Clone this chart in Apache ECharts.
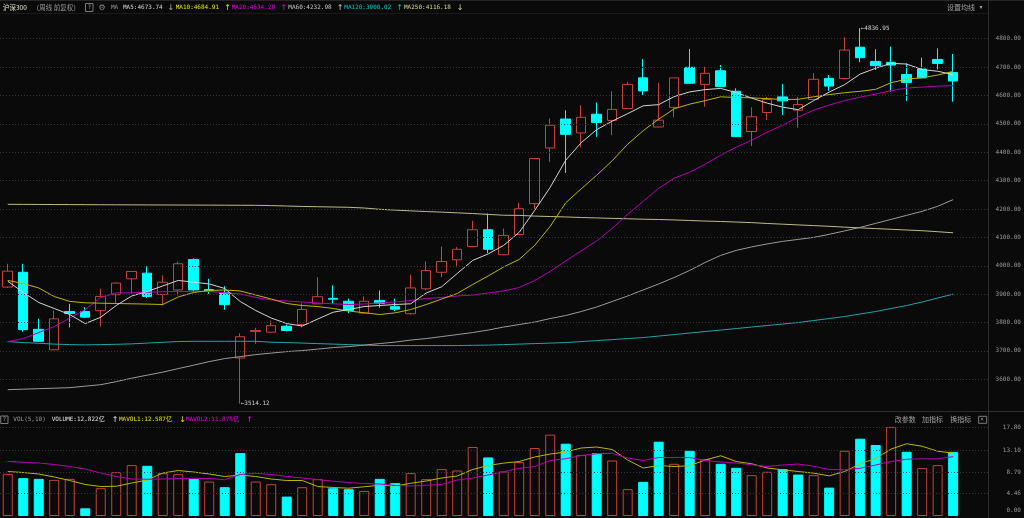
<!DOCTYPE html>
<html><head><meta charset="utf-8">
<script src="https://cdn.jsdelivr.net/npm/echarts/dist/echarts.min.js"></script>
<style>html,body{margin:0;padding:0;background:#0a0a0a;overflow:hidden}#c{width:1024px;height:518px}</style>
</head><body><div id="c"></div>
<script>
// ---------------- data ----------------
const categories = ['W01','W02','W03','W04','W05','W06','W07','W08','W09','W10','W11','W12','W13','W14','W15','W16','W17','W18','W19','W20','W21','W22','W23','W24','W25','W26','W27','W28','W29','W30','W31','W32','W33','W34','W35','W36','W37','W38','W39','W40','W41','W42','W43','W44','W45','W46','W47','W48','W49','W50','W51','W52','W53','W54','W55','W56','W57','W58','W59','W60','W61','W62',' ','  '];
const opens  = [3925,3977,3776,3704,3839,3839,3842,3898,3954,3974,3899,3915,4022,3916,3905,3675,3768,3766,3787,3793,3866,3885,3875,3833,3878,3856,3831,3919,3977,4021,4068,4127,4039,4110,4219,4415,4517,4468,4534,4512,4554,4662,4489,4558,4699,4639,4687,4615,4473,4540,4595,4548,4586,4660,4660,4770,4720,4717,4674,4693,4727,4681];
const closes = [3981,3775,3734,3813,3832,3819,3892,3939,3980,3892,3942,4007,3915,3911,3863,3750,3772,3789,3772,3846,3891,3882,3842,3875,3867,3847,3922,3983,4015,4058,4127,4058,4107,4201,4378,4495,4463,4523,4505,4551,4639,4616,4513,4662,4643,4678,4631,4455,4525,4586,4581,4568,4657,4633,4760,4733,4705,4707,4646,4662,4713,4651];
const lows   = [3922,3768,3732,3702,3783,3817,3786,3866,3901,3887,3860,3895,3907,3901,3845,3514.12,3725,3765,3769,3783,3865,3866,3833,3832,3852,3840,3828,3913,3960,3995,4066,4045,4038,4109,4195,4366,4327,4417,4454,4460,4553,4601,4487,4523,4642,4560,4630,4454,4422,4513,4531,4487,4585,4616,4659,4717,4690,4613,4581,4661,4692,4578];
const highs  = [4007,4007,3813,3842,3866,3854,3919,3941,3981,3998,3966,4015,4026,3954,3928,3762,3781,3807,3793,3868,3960,3931,3884,3892,3913,3884,3969,4015,4068,4066,4158,4184,4131,4222,4378,4519,4548,4565,4575,4615,4648,4728,4645,4662,4764,4701,4707,4625,4558,4595,4640,4595,4678,4672,4805,4836.95,4763,4772,4713,4733,4766,4746];
const ma5   = [3945.7,3905.9,3870.6,3849.4,3828.2,3796.4,3818.7,3860,3893.5,3909.4,3928.8,3948.2,3942.2,3935.9,3920,3874.1,3842.3,3815.8,3796.4,3787.6,3812.3,3836.3,3845.8,3856.4,3860,3863.5,3866,3904.1,3926,3972.9,4018.8,4041.8,4071.8,4117.7,4195,4276.5,4371.8,4433.6,4479.5,4509.5,4536,4563.5,4567.7,4596,4612.6,4620.7,4624.9,4610.1,4590.7,4573,4558.9,4550.1,4581.8,4611.9,4638.3,4675.4,4695.9,4713.2,4710.7,4691.3,4685.3,4673.74];
const ma10  = [3948.2,3937.6,3921.7,3891.7,3874.4,3869.5,3868.1,3867,3866,3865,3863.5,3890,3905.9,3912.9,3914.7,3911.1,3897,3882.9,3867,3860,3856.4,3849.4,3840.5,3834.5,3828.2,3834.2,3845.8,3863.5,3882.9,3902.3,3934.1,3964.1,3995.9,4022.3,4071.8,4138.8,4221.8,4271.2,4318.9,4370,4428.3,4475.9,4516.5,4552.9,4569.5,4581.8,4595.3,4592.8,4591.7,4588.9,4585.7,4586.4,4595.3,4603,4609.7,4614.7,4621.7,4645,4657.7,4662.3,4671.9,4684.91];
const ma20  = [3732.9,3743.5,3764.7,3785.8,3815.8,3845.8,3888.2,3904.4,3904.8,3906.6,3908.7,3909.4,3909.4,3909.4,3904.8,3900.6,3888.2,3879.4,3875.8,3872.3,3868.8,3866,3863.5,3865.3,3868.8,3872.3,3877.6,3884.7,3888.2,3893.5,3897,3904.1,3911.1,3923.5,3948.2,3980,4017,4052.3,4087.6,4131.8,4181.2,4227.1,4273,4308.3,4329.5,4357.7,4389.5,4417.7,4442.4,4470.7,4495.4,4523.6,4548.3,4566,4581.8,4594.2,4604.8,4617.1,4626,4629.5,4633,4634.28];
const ma60  = [3563.4,3565.2,3567,3568.7,3570.5,3575.8,3581.1,3591.7,3604,3614.6,3625.2,3637.6,3649.9,3662.3,3672.9,3679.9,3687,3692.3,3697.6,3701.1,3706.4,3711.7,3715.2,3720.5,3725.8,3731.1,3738.2,3743.5,3750.5,3757.6,3764.7,3773.5,3784.1,3792.9,3801.7,3814.1,3824.7,3838.8,3854.7,3874.1,3893.5,3914.7,3935.9,3958.8,3983.5,4011.8,4036.5,4054.1,4066.5,4077,4085.9,4092.9,4100,4110.6,4122.9,4135.3,4149.4,4163.5,4177.7,4191.8,4209.4,4232.98];
const ma120 = [3732.9,3729.4,3726.9,3724,3722.3,3721.2,3722.3,3723.3,3724.8,3727.6,3730.4,3732.9,3733.9,3733.9,3733.9,3733.9,3733.9,3730.6,3729.4,3727.6,3725.8,3724,3722.3,3720.5,3718.8,3718.8,3718.8,3718.8,3718.8,3718.8,3719.8,3720.5,3722.3,3724,3725.8,3727.6,3729.4,3732.9,3736.4,3739.9,3743.5,3747,3752.3,3757.6,3762.9,3768.2,3773.5,3778.8,3784.1,3789.4,3794.7,3800,3807,3814.1,3821.1,3830,3838.8,3849.4,3860,3872.3,3886.4,3900.02];
const ma250 = [4216.5,4216.3,4216,4215.8,4215.5,4215.2,4215,4214.8,4214.6,4214.4,4214.2,4214,4213.8,4213.6,4213.4,4213.2,4213,4212,4210.5,4209,4208,4207,4206,4203.5,4199,4196,4193.5,4191,4189,4186.5,4184,4181,4178,4177.5,4175,4173.5,4172,4170,4168.5,4167,4165.5,4164,4163,4161.5,4159.5,4157.5,4156,4154,4152,4149,4146.5,4144,4141.5,4139,4136,4133.5,4131,4128.5,4126,4123.5,4120,4116.18];
const volumes = [8.43,7.57,7.43,7.23,7.43,1.54,5.56,8.77,10.18,10.04,8.57,8.37,7.43,6.89,5.76,12.58,6.89,6.36,3.88,5.76,7.37,5.56,5.36,5.02,7.43,6.57,8.57,7.37,9.38,9.10,13.8,11.71,8.9,10.78,13.59,16.27,14.46,12.18,12.58,11.1,5.36,6.83,14.86,10.44,13.05,11.38,10.44,9.64,8.17,8.84,9.38,8.29,8.17,5.68,13.05,15.46,14.2,17.81,12.85,9.58,10.18,12.822];
const volUp   = [1,0,0,1,1,0,1,1,1,0,1,1,0,1,0,0,1,1,0,1,1,0,0,1,0,0,1,1,1,1,1,0,1,1,1,1,0,1,0,1,1,0,0,1,0,1,0,0,1,1,0,0,1,0,1,0,0,1,0,1,1,0];
const mavol1  = [8.9,8.7,8.4,7.8,7.1,6.3,5.9,5.95,6.6,7.2,8.6,9.1,8.8,8.4,7.9,8.2,7.9,7.4,7.1,7.1,5.9,5.7,5.56,5.85,6.15,6.0,6.55,7.0,7.6,8.0,9.3,10.1,10.58,10.9,11.8,12.4,12.8,13.6,13.8,13.3,11.2,9.6,10.1,9.9,10.05,11.2,12.05,10.9,10.45,9.6,9.25,8.9,8.57,8.03,8.9,10.44,11.5,13.4,14.45,13.95,12.95,12.587];
const mavol2  = [10.9,10.75,10.6,10.3,9.9,9.4,8.6,7.9,7.4,7.35,7.4,7.5,7.55,7.5,7.25,8.3,8.55,8.3,7.9,7.6,7.3,6.95,6.7,6.5,6.4,6.1,6.0,6.15,6.3,7.2,7.6,8.2,8.85,9.55,9.9,11.1,11.45,12.1,12.45,12.55,11.6,11.1,11.7,11.7,11.7,11.1,10.8,10.6,10.25,9.9,10.2,10.4,9.95,9.3,9.25,9.55,10.2,10.9,11.35,11.45,11.45,11.878];
const priceTicks = [3600,3700,3800,3900,4000,4100,4200,4300,4400,4500,4600,4700,4800];
const volTicks = [0,4.46,8.79,13.10,17.80];
const highMark = {index:55, value:4836.95};
const lowMark = {index:15, value:3514.12};

// ---------------- style ----------------
const BG='#0a0a0a', RED='#c8423c', CYAN='#00ffff';
const MONO='"DejaVu Sans Mono","Noto Sans CJK SC",monospace';
const CJK='"Noto Sans CJK SC",sans-serif';
const GRID_L=-0.7, GRID_W=992.6;

function txt(x,y,text,fill,font){
  return {type:'text',x:x,y:y,z:100,silent:true,style:{text:text,fill:fill,font:font,align:'left',textAlign:'left',verticalAlign:'middle',textVerticalAlign:'middle'}};
}
function hline(x1,x2,y,c){return {type:'line',z:101,silent:true,shape:{x1:x1,y1:y,x2:x2,y2:y},style:{stroke:c,lineWidth:1}};}
function vline(x,y1,y2,c){return {type:'line',z:101,silent:true,shape:{x1:x,y1:y1,x2:x,y2:y2},style:{stroke:c,lineWidth:1}};}
function box(x,y,w,h){return {type:'rect',z:100,silent:true,shape:{x:x,y:y,width:w,height:h},style:{fill:'none',stroke:'#7a7a7a',lineWidth:1}};}

const last = a => a[a.length-1];
const F6 = '6px '+MONO, F6C='6.5px '+CJK, F7C='7px '+CJK, FA='8px "DejaVu Sans",sans-serif';
const Y1=7.5, Y2=419.7;
const graphics = [
  {type:'rect',z:99,silent:true,shape:{x:989,y:0,width:5,height:518},style:{fill:BG}},
  hline(0,1024,0.5,'#262626'), hline(0,988,13.5,'#1a1a1a'), hline(0,1024,411.5,'#2e2e2e'),
  vline(988.5,0,518,'#2e2e2e'),
  txt(3,Y1,'沪深300','#e4e4d4',F6C), txt(32.7,Y1,'（周线 前复权）','#9a9a9a',F6C),
  box(85.5,3.5,7.5,8), txt(87.4,Y1,'?','#9a9a9a',F6),
  txt(98.5,Y1,'⚙','#8a8a8a',FA),
  txt(111,Y1,'MA','#9a9a9a',F6),
  txt(123,Y1,'MA5:'+last(ma5).toFixed(2),'#d8d8d8',F6), txt(167.5,Y1,'↓','#b0b0b0',FA),
  txt(175.7,Y1,'MA10:'+last(ma10).toFixed(2),'#e6e600',F6), txt(224.3,Y1,'↑','#e6e600',FA),
  txt(231.7,Y1,'MA20:'+last(ma20).toFixed(2),'#e600e6',F6), txt(280.5,Y1,'↑','#e600e6',FA),
  txt(288.3,Y1,'MA60:'+last(ma60).toFixed(2),'#c8c8c8',F6), txt(336.8,Y1,'↑','#c8c8c8',FA),
  txt(344.3,Y1,'MA120:'+last(ma120).toFixed(2),'#00c8c8',F6), txt(396.3,Y1,'↑','#00c8c8',FA),
  txt(404,Y1,'MA250:'+last(ma250).toFixed(2),'#d8d890',F6), txt(456.8,Y1,'↓','#d8d890',FA),
  txt(947,7.3,'设置均线','#a0a0a0',F7C), txt(979.5,7.3,'▾','#a0a0a0','6px "DejaVu Sans",sans-serif'),
  box(0.7,416,7.3,7.5), txt(2.4,Y2,'?','#9a9a9a',F6),
  txt(13.3,Y2,'VOL(5,10)','#9a9a9a',F6),
  txt(51.7,Y2,'VOLUME:'+last(volumes).toFixed(3)+'亿','#e0e0e0',F6), txt(111.8,Y2,'↑','#e0e0e0',FA),
  txt(119,Y2,'MAVOL1:'+last(mavol1).toFixed(3)+'亿','#e6e600',F6), txt(179.3,Y2,'↓','#e6e600',FA),
  txt(186,Y2,'MAVOL2:'+last(mavol2).toFixed(3)+'亿','#e600e6',F6), txt(246.3,Y2,'↑','#e600e6',FA),
  txt(894.7,Y2,'改参数','#a0a0a0',F7C), txt(922,Y2,'加指标','#a0a0a0',F7C), txt(950.3,Y2,'换指标','#a0a0a0',F7C),
  box(978.7,416.3,8,7), txt(980.3,Y2,'×','#9a9a9a',F6)
];

function maLine(data,color,xi,yi){
  return {type:'line',xAxisIndex:xi,yAxisIndex:yi,data:data,symbol:'none',showSymbol:false,silent:true,z:3,
    lineStyle:{color:color,width:1},emphasis:{disabled:true}};
}
function gridLines(ticks,xi,yi){
  return {type:'line',xAxisIndex:xi,yAxisIndex:yi,data:[],z:1,silent:true,
    markLine:{silent:true,symbol:['none','none'],animation:false,label:{show:false},
      lineStyle:{color:'#363636',type:[1,2],width:1},emphasis:{disabled:true},
      data:ticks.map(v=>({yAxis:v}))}};
}
const markLabel = {show:true,position:'right',distance:0,color:'#d0d0d0',fontSize:6,fontFamily:MONO,
  formatter:p=>'←'+p.value.toFixed(2)};

const option = {
  backgroundColor:BG, animation:false,
  grid:[{left:GRID_L,top:20,width:GRID_W,height:391},{left:GRID_L,top:426,width:GRID_W,height:90}],
  xAxis:[0,1].map(g=>({type:'category',gridIndex:g,data:categories,boundaryGap:true,
    axisLine:{show:false},axisTick:{show:false},axisLabel:{show:false},splitLine:{show:false}})),
  yAxis:[
    {type:'value',gridIndex:0,position:'right',min:3488.3,max:4865.9,
     axisLine:{show:false},axisTick:{show:false},splitLine:{show:false},
     axisLabel:{customValues:priceTicks,formatter:v=>v.toFixed(2),color:'#9a9a9a',fontSize:6,fontFamily:MONO,align:'right',margin:29}},
    {type:'value',gridIndex:1,position:'right',min:0,max:18,
     axisLine:{show:false},axisTick:{show:false},splitLine:{show:false},
     axisLabel:{customValues:volTicks,formatter:v=>v===0?'{z|0.00}':v.toFixed(2),color:'#9a9a9a',fontSize:6,fontFamily:MONO,align:'right',margin:29,
       rich:{z:{color:'#9a9a9a',fontSize:6,fontFamily:MONO,padding:[0,0,12,0]}}}}
  ],
  series:[
    gridLines(priceTicks,0,0),
    gridLines(volTicks.filter(v=>v>0),1,1),
    {type:'candlestick',xAxisIndex:0,yAxisIndex:0,z:2,barWidth:10,silent:true,
     data:opens.map((o,i)=>[o,closes[i],lows[i],highs[i]]),
     itemStyle:{color:BG,color0:CYAN,borderColor:RED,borderColor0:CYAN,borderWidth:1},
     markPoint:{symbol:'circle',symbolSize:1,itemStyle:{color:'rgba(0,0,0,0)'},label:markLabel,animation:false,silent:true,
       data:[{coord:[highMark.index,highMark.value],value:highMark.value},{coord:[lowMark.index,lowMark.value],value:lowMark.value}]}},
    maLine(ma250,'#bcbc86',0,0),
    maLine(ma120,'#1fa5aa',0,0),
    maLine(ma60,'#9a9a9a',0,0),
    maLine(ma20,'#b400b4',0,0),
    maLine(ma10,'#b8b800',0,0),
    maLine(ma5,'#d4d4d4',0,0),
    {type:'bar',xAxisIndex:1,yAxisIndex:1,barWidth:10,z:2,silent:true,
     data:volumes.map((v,i)=>({value:v,itemStyle:volUp[i]?{color:BG,borderColor:RED,borderWidth:1}:{color:CYAN,borderColor:CYAN,borderWidth:1}}))},
    maLine(mavol1,'#b8b800',1,1),
    maLine(mavol2,'#b400b4',1,1)
  ],
  graphic:{elements:graphics}
};
const chart = echarts.init(document.getElementById('c'),null,{renderer:'canvas'});
chart.setOption(option);
</script></body></html>
